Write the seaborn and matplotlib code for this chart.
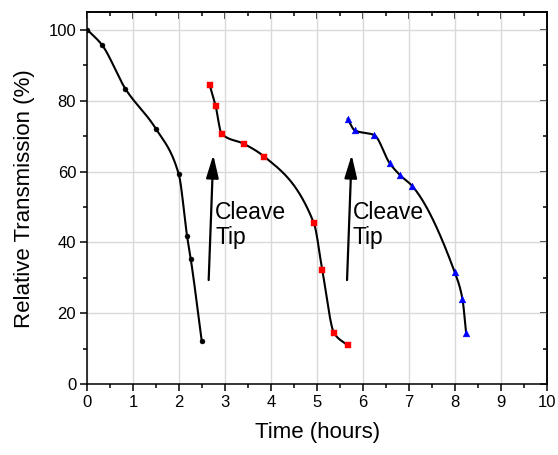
import numpy as np
import pandas as pd
import matplotlib
matplotlib.use("Agg")
import matplotlib.pyplot as plt
import seaborn as sns

# ---- data ----
t1 = [0.00, 0.32, 0.83, 1.49, 1.99, 2.17, 2.25, 2.49]
y1 = [100.0, 95.7, 83.3, 72.1, 59.2, 41.8, 35.4, 12.1]

t2 = [2.66, 2.79, 2.92, 3.41, 3.85, 4.93, 5.11, 5.37, 5.66]
y2 = [84.5, 78.6, 70.7, 67.8, 64.2, 45.4, 32.3, 14.4, 11.0]

t3 = [5.66, 5.82, 6.24, 6.58, 6.81, 7.07, 7.99, 8.16, 8.24]
y3 = [74.9, 71.6, 70.3, 62.3, 58.9, 55.9, 31.7, 24.1, 14.5]

arrow_tails = [(2.64, 29.4), (5.65, 29.4)]
arrow_tips = [(2.74, 64.7), (5.75, 64.7)]
note_text = "Cleave\nTip"
note_pos = [(2.78, 51.6), (5.77, 51.6)]

xticks = list(range(0, 11))
yticks = [0, 20, 40, 60, 80, 100]


def pchip(x, y, xn):
    x = np.asarray(x, float); y = np.asarray(y, float)
    h = np.diff(x); d = np.diff(y) / h
    n = len(x); m = np.zeros(n)
    for k in range(1, n - 1):
        if d[k - 1] * d[k] > 0:
            w1 = 2 * h[k] + h[k - 1]; w2 = h[k] + 2 * h[k - 1]
            m[k] = (w1 + w2) / (w1 / d[k - 1] + w2 / d[k])
    m[0] = d[0]; m[-1] = d[-1]
    idx = np.clip(np.searchsorted(x, xn) - 1, 0, n - 2)
    hk = h[idx]; s = (xn - x[idx]) / hk
    h00 = 2 * s**3 - 3 * s**2 + 1; h10 = s**3 - 2 * s**2 + s
    h01 = -2 * s**3 + 3 * s**2; h11 = s**3 - s**2
    return h00 * y[idx] + h10 * hk * m[idx] + h01 * y[idx + 1] + h11 * hk * m[idx + 1]


sns.set_theme(style="ticks")
plt.rcParams['font.family'] = ['Liberation Sans', 'DejaVu Sans']
for k in ['text.color', 'axes.labelcolor', 'xtick.color', 'ytick.color', 'axes.edgecolor']:
    plt.rcParams[k] = 'black'

fig = plt.figure(figsize=(5.58, 4.55), dpi=100)
ax = fig.add_axes([0.1565, 0.1554, 0.8238, 0.8182])

series = [(t1, y1, 'black', 'o', 13), (t2, y2, 'red', 's', 17), (t3, y3, 'blue', '^', 24)]
for t, y, c, mk, s in series:
    xs = np.linspace(t[0], t[-1], 300)
    curve = pd.DataFrame({'t': xs, 'y': pchip(t, y, xs)})
    sns.lineplot(data=curve, x='t', y='y', color='black', lw=1.5, ax=ax, zorder=3)
    pts = pd.DataFrame({'t': t, 'y': y})
    sns.scatterplot(data=pts, x='t', y='y', color=c, marker=mk, s=s,
                    edgecolor=c, linewidth=0.3, ax=ax, zorder=4)

for tail, tip in zip(arrow_tails, arrow_tips):
    ax.annotate('', xy=tip, xytext=tail,
                arrowprops=dict(arrowstyle='-|>,head_length=1.4,head_width=0.38',
                                mutation_scale=10, color='black', lw=1.6,
                                shrinkA=0, shrinkB=0), zorder=5)
for (x, y) in note_pos:
    ax.text(x, y, note_text, fontsize=16.5, ha='left', va='top', linespacing=1.1,
            color='black')

ax.set_xlim(0, 10)
ax.set_ylim(0, 105)
ax.set_xticks(xticks)
ax.set_yticks(yticks)
ax.set_xticks(np.arange(0.5, 10, 1), minor=True)
ax.set_yticks(np.arange(10, 105, 20), minor=True)
ax.grid(True, which='major', color='#d9d9d9', lw=1.0)
ax.set_axisbelow(True)

ax.tick_params(axis='both', which='major', labelsize=12, length=5, width=1.1,
               direction='out', color='black', labelcolor='black', pad=3)
ax.tick_params(axis='both', which='minor', length=3, width=1.1, direction='out', color='black')

ax.set_xlabel('Time (hours)', fontsize=16, labelpad=8, color='black')
ax.set_ylabel('Relative Transmission (%)', fontsize=16, labelpad=10, color='black')

for sp in ax.spines.values():
    sp.set_linewidth(1.1)
    sp.set_color('black')

# mirrored inward ticks on top/right
ax2 = ax.secondary_xaxis('top')
ax2.set_xticks(xticks)
ax2.set_xticks(np.arange(0.5, 10, 1), minor=True)
ax2.tick_params(which='major', direction='in', length=5, width=1.1, labeltop=False)
ax2.tick_params(which='minor', direction='in', length=3, width=1.1)
ax2.set_xticklabels([])
ax3 = ax.secondary_yaxis('right')
ax3.set_yticks(yticks)
ax3.set_yticks(np.arange(10, 105, 20), minor=True)
ax3.tick_params(which='major', direction='in', length=5, width=1.1)
ax3.tick_params(which='minor', direction='in', length=3, width=1.1)
ax3.set_yticklabels([])

fig.savefig('out.png', dpi=100)
